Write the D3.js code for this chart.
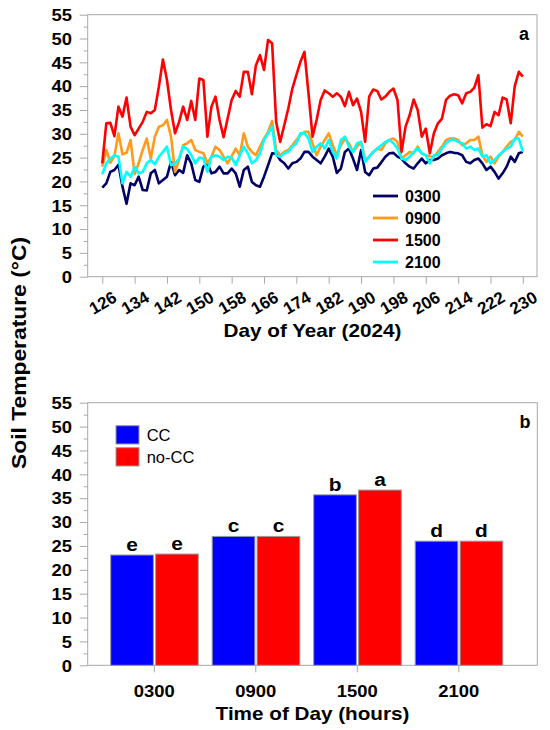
<!DOCTYPE html>
<html><head><meta charset="utf-8">
<script src="https://cdn.jsdelivr.net/npm/d3@7"></script>
<style>
body{margin:0;background:#fff}
text{font-family:"Liberation Sans",Arial,sans-serif;fill:#000}
</style>
</head><body>
<svg id="c" width="550" height="730"></svg>
<script>
// ---------- DATA ----------
const firstDay = 126;
const s0300 = [18.7,19.6,22.0,22.4,23.5,18.9,15.3,19.6,19.2,21.0,18.2,18.1,21.7,22.4,19.6,20.3,21.0,24.1,21.3,22.4,
  21.8,25.5,23.8,20.3,19.9,23.1,23.8,21.7,22.0,23.1,21.7,21.7,22.7,21.7,18.9,22.4,23.1,19.9,19.2,18.9,
  21.0,23.4,25.9,25.8,24.5,23.8,22.7,23.8,24.1,24.8,26.2,26.2,25.2,24.5,23.8,25.2,26.9,25.2,21.8,22.7,
  26.2,26.9,24.8,22.4,26.6,22.0,21.3,22.7,22.9,24.0,25.2,25.9,26.0,25.2,24.8,23.8,23.1,22.7,23.8,24.8,
  23.8,24.5,24.5,24.8,25.5,25.9,26.2,26.0,25.9,25.5,24.1,23.8,24.5,24.8,23.8,22.4,23.1,22.0,20.6,21.7,
  23.1,25.2,24.1,25.9,26.2];
const s0900 = [23.1,26.6,23.9,25.3,30.1,25.7,26.0,28.7,21.5,23.8,26.6,29.0,24.8,29.4,31.5,31.8,32.9,29.4,22.0,24.5,
  27.6,28.0,28.7,26.6,26.2,25.9,23.8,25.2,27.3,26.6,25.2,23.8,25.3,26.9,25.5,30.1,27.3,26.2,25.5,27.3,
  29.0,30.4,32.7,26.6,25.5,26.2,26.6,27.6,28.7,29.7,30.4,30.4,28.0,25.5,27.3,28.7,30.1,27.6,25.5,27.6,
  29.0,28.0,26.2,27.3,28.3,24.5,25.2,26.2,26.9,26.6,28.0,28.7,29.0,28.3,24.8,25.5,26.2,25.9,27.3,25.9,
  25.5,25.3,25.2,26.2,27.3,28.7,29.0,29.0,28.7,27.6,28.0,28.7,28.7,29.4,25.5,24.1,25.2,23.8,25.2,26.2,
  27.3,28.3,28.7,30.4,29.4];
const s1500 = [23.8,32.2,32.3,29.5,35.7,33.6,37.6,31.5,29.7,31.1,32.5,34.6,34.3,35.0,39.9,45.6,41.3,35.0,30.1,32.5,
  35.7,32.9,36.9,32.9,41.6,41.3,29.4,35.7,37.8,32.9,29.3,33.2,37.1,39.0,37.8,43.0,43.0,38.3,44.4,46.5,
  43.4,49.7,49.0,32.5,28.3,31.8,35.3,39.5,42.3,45.1,47.2,38.5,29.4,32.9,37.1,39.1,38.5,37.8,38.5,37.8,
  35.8,38.8,36.0,37.4,34.6,28.3,37.8,39.3,39.0,37.2,37.8,38.8,39.5,37.1,26.2,31.5,33.9,37.2,35.0,29.4,
  31.1,25.9,30.1,32.2,33.2,37.1,38.0,38.3,38.1,36.4,38.5,38.8,39.7,42.3,31.3,32.0,31.6,34.6,33.9,37.6,
  37.2,32.2,40.0,43.0,42.0];
const s2100 = [21.5,23.8,24.8,25.5,25.2,19.6,22.0,21.0,23.1,21.7,22.0,23.8,24.5,23.6,25.2,26.2,27.3,23.4,23.8,24.8,
  27.3,26.8,25.5,23.8,25.0,24.8,22.0,25.2,25.5,25.2,24.5,25.2,25.0,23.4,25.5,27.3,25.9,23.8,24.5,25.9,
  28.7,30.1,31.5,25.5,25.2,25.9,26.2,27.3,28.0,30.1,30.1,29.0,26.2,27.3,28.0,26.9,28.7,26.2,24.8,28.7,
  29.4,27.3,26.2,28.0,28.3,24.1,25.2,26.2,26.9,27.6,28.3,28.7,28.0,26.9,24.8,24.5,25.2,26.2,26.9,25.9,
  25.5,23.8,25.5,25.5,26.9,28.0,28.7,28.8,28.3,28.0,26.9,27.3,26.6,26.9,25.2,25.5,23.8,24.5,25.5,26.2,
  26.9,27.3,29.0,29.0,26.2];
const seriesNames = ["0300","0900","1500","2100"];
const seriesColors = ["#000066","#ff9a1a","#ff0000","#00ffff"];
const dayTicks = [126,134,142,150,158,166,174,182,190,198,206,214,222,230];
const yTicks = [0,5,10,15,20,25,30,35,40,45,50,55];
const yMinorTicks = [2.5,7.5,12.5,17.5,22.5,27.5,32.5,37.5,42.5,47.5,52.5];

const groups = ["0300","0900","1500","2100"];
const treatments = ["CC","no-CC"];
const ccValues = [23.1,27.0,35.7,26.0];
const noccValues = [23.3,27.0,36.7,26.0];
const ccLetters = ["e","c","b","d"];
const noccLetters = ["e","c","a","d"];
const treatColors = ["#0000ff","#ff0000"];

// ---------- SETUP ----------
const svg = d3.select("#c");
const GRAY = "#a8a8a8";
const FONT = '"Liberation Sans",Arial,sans-serif';
const SX = 1.15;

function styleAxis(g){
  g.select(".domain").remove();
  g.selectAll(".tick line").attr("stroke", GRAY);
}

// ---------- PANEL A ----------
const A = {l:87.7, r:537, t:14.7, b:276.7};
const xA = d3.scaleLinear().domain([122.4, 233.5]).range([A.l, A.r]);
const yA = d3.scaleLinear().domain([0,55]).range([A.b, A.t]);

svg.append("rect").attr("x",A.l).attr("y",A.t).attr("width",A.r-A.l).attr("height",A.b-A.t)
  .attr("fill","none").attr("stroke",GRAY).attr("stroke-width",1);

function yAxes(y, left){
  const gMaj = svg.append("g").attr("transform",`translate(${left},0)`)
    .call(d3.axisLeft(y).tickValues(yTicks).tickSize(8).tickSizeOuter(0));
  styleAxis(gMaj);
  gMaj.selectAll("text").attr("font-family",FONT).attr("font-weight","bold").attr("font-size",16)
    .attr("x", -15.7/SX).attr("dy","0.36em").attr("transform",`scale(${SX},1)`).attr("fill","#000");
  const gMin = svg.append("g").attr("transform",`translate(${left},0)`)
    .call(d3.axisLeft(y).tickValues(yMinorTicks).tickSize(4).tickFormat(""));
  styleAxis(gMin);
}
yAxes(yA, A.l);

const gxA = svg.append("g").attr("transform",`translate(0,${A.b})`)
  .call(d3.axisBottom(xA).tickValues(dayTicks).tickSize(7).tickSizeOuter(0));
styleAxis(gxA);
gxA.selectAll("text").attr("font-family",FONT).attr("font-weight","bold").attr("font-size",17)
  .attr("y",0).attr("dy","0.35em").attr("text-anchor","middle")
  .attr("transform","translate(0,26) rotate(-30)").attr("fill","#000");

const allSeries = [s0300, s0900, s1500, s2100];
const line = d3.line().x((d,i)=>xA(firstDay+i)).y(d=>yA(d));
allSeries.forEach((s,k)=>{
  svg.append("path").datum(s).attr("d",line).attr("fill","none")
    .attr("stroke",seriesColors[k]).attr("stroke-width",2.6).attr("stroke-linejoin","round");
});

// legend A
const legY = [196, 218, 240, 262];
seriesNames.forEach((n,k)=>{
  svg.append("line").attr("x1",373).attr("x2",398).attr("y1",legY[k]).attr("y2",legY[k])
    .attr("stroke",seriesColors[k]).attr("stroke-width",2.8);
  svg.append("text").attr("x",405).attr("y",legY[k]).attr("dy","0.36em")
    .attr("font-weight","bold").attr("font-size",16).text(n);
});
svg.append("text").attr("x",524).attr("y",39.5).attr("text-anchor","middle")
  .attr("font-weight","bold").attr("font-size",18).text("a");

svg.append("text").attr("transform",`translate(312.5,336.7) scale(${SX},1)`).attr("text-anchor","middle")
  .attr("font-weight","bold").attr("font-size",18).text("Day of Year (2024)");

// ---------- PANEL B ----------
const B = {l:87.7, r:537.3, t:402.7, b:665.3};
const xB = d3.scaleBand().domain(groups).range([103.55, 509.55]).padding(0);
const xInner = d3.scaleBand().domain(treatments).range([-43.6, 44]).paddingInner(0.05);
const yB = d3.scaleLinear().domain([0,55]).range([B.b, B.t]);

svg.append("rect").attr("x",B.l).attr("y",B.t).attr("width",B.r-B.l).attr("height",B.b-B.t)
  .attr("fill","none").attr("stroke",GRAY).attr("stroke-width",1);
yAxes(yB, B.l);

const gxB = svg.append("g").attr("transform",`translate(0,${B.b})`)
  .call(d3.axisBottom(xB).tickSize(7).tickSizeOuter(0));
styleAxis(gxB);
gxB.selectAll("text").attr("font-family",FONT).attr("font-weight","bold").attr("font-size",16)
  .attr("y",31.4).attr("dy",0).attr("transform",`scale(${SX},1)`).attr("fill","#000");

const barData = [];
groups.forEach((g,i)=>{
  barData.push({g, t:"CC", v:ccValues[i], L:ccLetters[i], c:treatColors[0]});
  barData.push({g, t:"no-CC", v:noccValues[i], L:noccLetters[i], c:treatColors[1]});
});
const cx = d => xB(d.g) + xB.bandwidth()/2 + xInner(d.t);
svg.append("g").selectAll("rect").data(barData).join("rect")
  .attr("x",cx).attr("width",xInner.bandwidth())
  .attr("y",d=>yB(d.v)).attr("height",d=>yB(0)-yB(d.v))
  .attr("fill",d=>d.c).attr("stroke","#9a9a9a").attr("stroke-width",1);
svg.append("g").selectAll("text").data(barData).join("text")
  .attr("transform",d=>`translate(${cx(d)+xInner.bandwidth()/2},${yB(d.v)-4}) scale(1.1,1)`)
  .attr("text-anchor","middle").attr("font-weight","bold").attr("font-size",19).text(d=>d.L);

// legend B
treatments.forEach((t,k)=>{
  const y0 = 425.7 + k*22;
  svg.append("rect").attr("x",116).attr("y",y0).attr("width",23).attr("height",18.3)
    .attr("fill",treatColors[k]).attr("stroke","#9a9a9a").attr("stroke-width",1);
  svg.append("text").attr("x",146.7).attr("y",y0+9.2).attr("dy","0.36em")
    .attr("font-size",16.5).text(t);
});
svg.append("text").attr("x",525).attr("y",428).attr("text-anchor","middle")
  .attr("font-weight","bold").attr("font-size",18).text("b");

svg.append("text").attr("transform",`translate(312.5,720) scale(${SX},1)`).attr("text-anchor","middle")
  .attr("font-weight","bold").attr("font-size",18).text("Time of Day (hours)");

// shared y title
svg.append("text").attr("transform","translate(25.5,353) rotate(-90)").attr("text-anchor","middle")
  .attr("font-weight","bold").attr("font-size",20).attr("textLength",232).attr("lengthAdjust","spacingAndGlyphs")
  .text("Soil Temperature (°C)");
</script>
</body></html>
